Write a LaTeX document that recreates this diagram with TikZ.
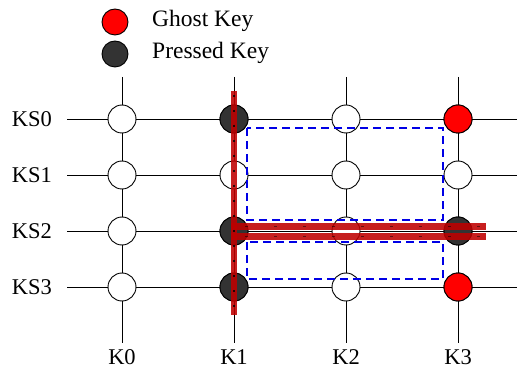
\documentclass[tikz,border=0pt]{standalone}
\usepackage{fontspec}
\setmainfont{Liberation Serif}
\begin{document}
\begin{tikzpicture}[x=1pt,y=-1pt,
  key/.style={circle,draw=black,line width=0.9pt,minimum size=28pt,inner sep=0pt,fill=white},
  pressed/.style={key,fill=black!80},
  ghost/.style={key,fill=red},
  wire/.style={line width=0.9pt,black},
  lbl/.style={font=\fontsize{22.5}{26}\selectfont,inner sep=0pt},
  legend/.style={font=\fontsize{23.5}{27}\selectfont,inner sep=0pt,anchor=west},
  region/.style={draw=blue!90!black,line width=1.3pt,dash pattern=on 8pt off 5pt},
  pathbar/.style={draw=red!75!black,line width=6.5pt,opacity=0.88},
  pathdots/.style={draw=black,line width=2pt,opacity=0.8},
]
\useasboundingbox (0,0) rectangle (519,371);

% grid wires
\foreach \r/\y in {0/119,1/175,2/231,3/287}{
  \coordinate (rl\r) at (67,\y);
  \coordinate (rr\r) at (517,\y);
  \draw[wire] (rl\r) -- (rr\r);
  \node[lbl] (ks\r) at (32,\y) {KS\r};
}
\foreach \c/\x in {0/122,1/234,2/346,3/458}{
  \coordinate (ct\c) at (\x,77);
  \coordinate (cb\c) at (\x,343);
  \draw[wire] (ct\c) -- (cb\c);
  \node[lbl] (kc\c) at (\x,357) {K\c};
}

% switches
\foreach \c/\x in {0/122,1/234,2/346,3/458}{
  \foreach \r/\y in {0/119,1/175,2/231,3/287}{
    \node[key] (s\c\r) at (\x,\y) {};
  }
}
\node[pressed] at (s10) {};
\node[pressed] at (s12) {};
\node[pressed] at (s13) {};
\node[pressed] at (s32) {};
\node[ghost] at (s30) {};
\node[ghost] at (s33) {};

% blocked areas
\draw[region] (247,128) rectangle (443,220);
\draw[region] (247,242) rectangle (443,279);

% current path through the pressed keys
\coordinate (vt) at (234,91);
\coordinate (vb) at (234,315);
\coordinate (hu0) at (231,226.5);
\coordinate (hu1) at (486,226.5);
\coordinate (hl0) at (231,236.5);
\coordinate (hl1) at (486,236.5);
\draw[pathbar] (hu0) -- (hu1);
\draw[pathbar] (hl0) -- (hl1);
\draw[pathbar] (vt) -- (vb);
\draw[pathdots,dash pattern=on 2pt off 13pt,dash phase=-4pt] (vt) -- (vb);
\draw[pathdots,line width=1.5pt,opacity=0.5,dash pattern=on 3pt off 26pt,dash phase=-14pt] (hu0) -- (hu1);
\draw[pathdots,line width=1.5pt,opacity=0.5,dash pattern=on 3pt off 26pt,dash phase=-14pt] (hl0) -- (hl1);

% legend
\node[ghost,minimum size=26pt] (lg) at (115,22) {};
\node[pressed,minimum size=26pt] (lp) at (115,54) {};
\node[legend] (tg) at (152,21) {Ghost Key};
\node[legend] (tp) at (152,53) {Pressed Key};
\end{tikzpicture}
\end{document}
